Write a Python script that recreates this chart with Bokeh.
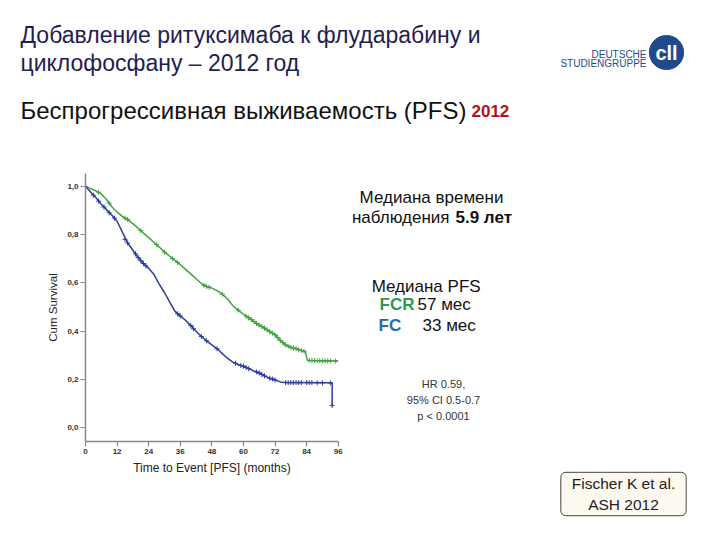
from bokeh.plotting import figure
from bokeh.models import Label, Range1d
from bokeh.embed import file_html
from bokeh.resources import INLINE

# ---------------- data ----------------
fcr_t = [0, 2, 4, 6, 8, 10, 12, 14, 16, 18, 20, 22, 24, 26, 28, 30, 32, 34, 36, 38, 40,
         42, 44, 46, 48, 50, 52, 54, 56, 58, 60, 62, 64, 66, 68, 70, 72, 74, 76, 78, 80,
         82, 83.5, 84.3, 96]
fcr_s = [1.0, 0.99, 0.98, 0.968, 0.945, 0.915, 0.893, 0.875, 0.862, 0.845, 0.826, 0.806,
         0.787, 0.768, 0.748, 0.727, 0.71, 0.693, 0.675, 0.656, 0.637, 0.617, 0.597, 0.585,
         0.578, 0.568, 0.553, 0.533, 0.505, 0.487, 0.47, 0.455, 0.44, 0.425, 0.413, 0.398,
         0.385, 0.362, 0.343, 0.333, 0.327, 0.32, 0.315, 0.279, 0.276]

fc_t = [0, 2, 4, 6, 8, 10, 12, 14, 16, 18, 20, 22, 24, 26, 28, 30, 32, 34, 36, 38, 40,
        42, 44, 46, 48, 50, 52, 54, 56, 58, 60, 62, 64, 66, 68, 70, 72, 74, 76, 93.7, 93.7]
fc_s = [1.0, 0.975, 0.952, 0.925, 0.903, 0.88, 0.855, 0.81, 0.765, 0.735, 0.705, 0.68,
        0.66, 0.635, 0.595, 0.56, 0.52, 0.482, 0.463, 0.445, 0.423, 0.4, 0.378, 0.36,
        0.343, 0.327, 0.307, 0.287, 0.272, 0.262, 0.255, 0.245, 0.235, 0.227, 0.215,
        0.205, 0.198, 0.19, 0.187, 0.186, 0.092]

fcr_cens_t = [5, 9, 15, 16, 21, 27, 30, 33, 35, 45, 46, 47, 52, 58, 61, 62, 63, 64, 65, 66,
              67, 68, 69, 70, 71, 72, 73, 74, 75, 76, 77, 78, 79, 80, 81, 82, 83, 85, 86,
              87, 88, 89, 90, 91, 92, 93, 95]
fcr_cens_s = [0.975, 0.93, 0.868, 0.862, 0.816, 0.758, 0.727, 0.70, 0.684, 0.59, 0.585,
              0.582, 0.553, 0.487, 0.462, 0.455, 0.448, 0.44, 0.432, 0.425, 0.419, 0.413,
              0.405, 0.398, 0.392, 0.385, 0.374, 0.362, 0.352, 0.343, 0.338, 0.333, 0.33,
              0.327, 0.323, 0.32, 0.317, 0.279, 0.279, 0.278, 0.278, 0.278, 0.277, 0.277,
              0.277, 0.277, 0.276]

fc_cens_t = [3, 5, 7, 9, 11, 15, 16, 19, 20, 21, 22, 23, 35, 36, 40, 41, 44, 46, 50, 57,
             59, 60, 61, 62, 65, 66, 67, 68, 70, 71, 72, 76, 77, 78, 79, 80, 81, 82, 84,
             85, 86, 88, 90, 93, 93.7]
fc_cens_s = [0.963, 0.938, 0.914, 0.89, 0.868, 0.78, 0.765, 0.72, 0.705, 0.692, 0.68, 0.67,
             0.472, 0.463, 0.423, 0.41, 0.378, 0.36, 0.327, 0.267, 0.258, 0.255, 0.25, 0.245,
             0.231, 0.227, 0.221, 0.215, 0.205, 0.202, 0.198, 0.187, 0.187, 0.187, 0.187,
             0.187, 0.187, 0.187, 0.187, 0.187, 0.187, 0.186, 0.186, 0.186, 0.092]

x_ticks = [0, 12, 24, 36, 48, 60, 72, 84, 96]
y_ticks = [0.0, 0.2, 0.4, 0.6, 0.8, 1.0]
y_tick_labels = ["0,0", "0,2", "0,4", "0,6", "0,8", "1,0"]
x_bounds = (0, 96)
y_bounds = (-0.057, 1.053)

GREEN = "#43a043"
BLUE = "#2b3c9c"
FONT = "Liberation Sans"

# ---------------- geometry (canvas pixels) ----------------
W, H = 704, 524
PX0, PX96 = 85.0, 337.7     # canvas x of month 0 and month 96
PY1, PY0 = 185.7, 427.3     # canvas y of survival 1.0 and 0.0
kx = (PX96 - PX0) / 96.0
ky = (PY0 - PY1) / 1.0


def X(cx):
    return (cx - PX0) / kx


def Y(cy):
    return (PY0 - cy) / ky


p = figure(width=W, height=H, output_backend="svg", toolbar_location=None,
           x_range=Range1d(X(0), X(W)), y_range=Range1d(Y(H), Y(0)),
           min_border=0, title=None)
p.outline_line_color = None
p.grid.visible = False
p.background_fill_color = "white"
p.border_fill_color = "white"

p.xaxis.fixed_location = y_bounds[0]
p.yaxis.fixed_location = x_bounds[0]
p.xaxis.bounds = x_bounds
p.yaxis.bounds = y_bounds
p.xaxis.ticker = x_ticks
p.yaxis.ticker = y_ticks
p.yaxis.major_label_overrides = {v: s for v, s in zip(y_ticks, y_tick_labels)}
p.axis.axis_line_color = "#8a8a8a"
p.axis.axis_line_width = 1.5
p.axis.major_tick_line_color = "#8a8a8a"
p.axis.major_tick_line_width = 1.2
p.axis.major_tick_out = 5
p.axis.major_tick_in = 0
p.axis.minor_tick_line_color = None
p.axis.major_label_text_font = FONT
p.axis.major_label_text_font_size = "8px"
p.axis.major_label_text_font_style = "bold"
p.axis.major_label_text_color = "#333333"
p.axis.major_label_standoff = 2
p.axis.axis_label_text_font = FONT
p.axis.axis_label_text_font_style = "normal"
p.axis.axis_label_text_color = "#222222"
p.xaxis.axis_label = "Time to Event [PFS] (months)"
p.xaxis.axis_label_text_font_size = "12px"
p.xaxis.axis_label_standoff = 4
p.yaxis.axis_label = "Cum Survival"
p.yaxis.axis_label_text_font_size = "11.5px"
p.yaxis.axis_label_standoff = 5

# curves
p.line(fcr_t, fcr_s, line_color=GREEN, line_width=1.5)
p.line(fc_t, fc_s, line_color=BLUE, line_width=1.5)
p.scatter(fcr_cens_t, fcr_cens_s, marker="cross", size=5, line_color=GREEN, line_width=1)
p.scatter(fc_cens_t, fc_cens_s, marker="cross", size=5, line_color=BLUE, line_width=1)


def lab(text, cx, cy, size, color="#111111", align="left", style="normal",
        baseline="middle", font=FONT, **kw):
    p.add_layout(Label(x=X(cx), y=Y(cy), text=text, text_font=font,
                       text_font_size=f"{size}px", text_color=color,
                       text_align=align, text_baseline=baseline,
                       text_font_style=style, **kw))


# title (y = visual centre of the line)
TITLE_C = "#1f2050"
lab("Добавление ритуксимаба к флударабину и", 20, 34, 23, TITLE_C)
lab("циклофосфану – 2012 год", 20, 62, 23, TITLE_C)
lab("Беспрогрессивная выживаемость (PFS)", 20, 109.5, 24, "#111111")
lab("2012", 471, 110.5, 17, "#b01020", style="bold")

# logo
LOGO_C = "#1f4a8c"
lab("DEUTSCHE", 646, 54, 10, LOGO_C, align="right")
lab("STUDIENGRUPPE", 646, 62.5, 10, LOGO_C, align="right")
lab("cll", 666, 52, 20, "white", align="center", style="bold",
    background_fill_color=LOGO_C, border_line_color=LOGO_C, border_radius=17,
    padding=(6, 6))

# annotations
lab("Медиана времени", 431, 197, 17, align="center")
lab("наблюдения", 449, 217, 17, align="right")
lab("5.9 лет", 455, 217, 17, style="bold")
lab("Медиана  PFS", 428, 286, 17, align="center")
lab("FCR", 379, 304, 17, "#2e9a55", style="bold")
lab("57 мес", 417, 304, 17)
lab("FC", 378, 325, 17, "#2a6aa8", style="bold")
lab("33 мес", 422, 325, 17)
lab("HR 0.59,", 443, 383, 11, "#333333", align="center")
lab("95% CI 0.5-0.7", 443, 399, 11, "#333333", align="center")
lab("p < 0.0001", 443, 415, 11, "#333333", align="center")

# citation box
lab("Fischer K et al.\nASH 2012", 623, 493.5, 15.5, "#222222", align="center",
    background_fill_color="#fdf9ef", border_line_color="#444444",
    border_line_width=1, border_radius=5, padding=(11, 3))

open("out.html", "w").write(file_html(p, INLINE))
